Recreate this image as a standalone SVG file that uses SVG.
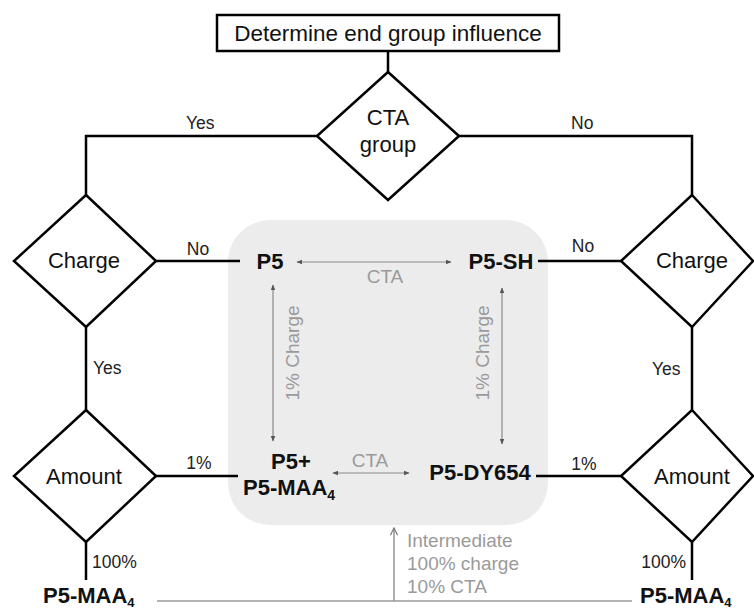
<svg xmlns="http://www.w3.org/2000/svg" width="754" height="612" viewBox="0 0 754 612">
<style>
text{font-family:"Liberation Sans",Arial,sans-serif;}
.node{font-size:22px;fill:#111;text-anchor:middle;}
.bold{font-size:22px;font-weight:bold;fill:#111;}
.lbl{font-size:17.5px;fill:#222;}
.gray{font-size:19px;fill:#9a9a9a;}
.shape{fill:#fff;stroke:#000;stroke-width:2.5;}
.edge{fill:none;stroke:#000;stroke-width:2.5;}
.garrow{fill:none;stroke:#8a8a8a;stroke-width:1.2;}
.gline{fill:none;stroke:#9a9a9a;stroke-width:1.6;}
</style>
<defs>
<marker id="ah" viewBox="0 0 10 10" refX="9" refY="5" markerWidth="6" markerHeight="6" orient="auto-start-reverse" markerUnits="userSpaceOnUse">
<path d="M0,1 L10,5 L0,9 z" fill="#555"/>
</marker>
<marker id="open" viewBox="0 0 10 10" refX="9" refY="5" markerWidth="9" markerHeight="9" orient="auto" markerUnits="userSpaceOnUse">
<path d="M1,1 L9,5 L1,9" fill="none" stroke="#777" stroke-width="1.3"/>
</marker>
</defs>
<rect width="754" height="612" fill="#fff"/>
<rect id="panel" x="228" y="220" width="320" height="305" rx="42" fill="#ececec"/>
<g id="connectors">
<line class="edge" x1="388" y1="51" x2="388" y2="72"/>
<polyline class="edge" points="317,136 86,136 86,195"/>
<polyline class="edge" points="459,136 692,136 692,195"/>
<line class="edge" x1="156" y1="261" x2="240" y2="261"/>
<line class="edge" x1="538" y1="261" x2="621" y2="261"/>
<line class="edge" x1="86" y1="327" x2="86" y2="410"/>
<line class="edge" x1="692" y1="327" x2="692" y2="410"/>
<line class="edge" x1="156" y1="476" x2="238" y2="476"/>
<line class="edge" x1="536" y1="476" x2="622" y2="476"/>
<line class="edge" x1="86" y1="542" x2="86" y2="580"/>
<line class="edge" x1="692" y1="542" x2="692" y2="580"/>
<line class="garrow" x1="297" y1="262" x2="451" y2="262" marker-start="url(#ah)" marker-end="url(#ah)"/>
<line class="garrow" x1="333" y1="473" x2="409" y2="473" marker-start="url(#ah)" marker-end="url(#ah)"/>
<line class="garrow" x1="273" y1="285" x2="273" y2="441" marker-start="url(#ah)" marker-end="url(#ah)"/>
<line class="garrow" x1="502" y1="288" x2="502" y2="444" marker-start="url(#ah)" marker-end="url(#ah)"/>
<line class="gline" x1="157" y1="601" x2="632" y2="601"/>
<line class="gline" x1="394" y1="601" x2="394" y2="528" marker-end="url(#open)"/>
</g>
<g id="title">
<rect class="shape" x="217" y="15" width="342" height="36"/>
<text class="node" x="388" y="41" style="font-size:22.5px">Determine end group influence</text>
</g>
<g id="cta-group">
<polygon class="shape" points="388,72 459,136 388,200 317,136"/>
<text class="node" x="388" y="125">CTA</text>
<text class="node" x="388" y="152">group</text>
</g>
<g id="charge-left">
<polygon class="shape" points="86,195 156,261 86,327 14,261"/>
<text class="node" x="84" y="268">Charge</text>
</g>
<g id="charge-right">
<polygon class="shape" points="692,195 753,261 692,327 621,261"/>
<text class="node" x="692" y="268">Charge</text>
</g>
<g id="amount-left">
<polygon class="shape" points="86,410 156,476 86,542 14,476"/>
<text class="node" x="84" y="484">Amount</text>
</g>
<g id="amount-right">
<polygon class="shape" points="692,410 753,476 692,542 621,476"/>
<text class="node" x="692" y="484">Amount</text>
</g>
<g id="p5"><text class="bold" x="270" y="269" text-anchor="middle">P5</text></g>
<g id="p5-sh"><text class="bold" x="501" y="269" text-anchor="middle">P5-SH</text></g>
<g id="p5-maa-mix">
<text class="bold" x="291" y="469" text-anchor="middle">P5+</text>
<text class="bold" x="243" y="495">P5-MAA<tspan font-size="14" dy="5">4</tspan></text>
</g>
<g id="p5-dy654"><text class="bold" x="480" y="480" text-anchor="middle">P5-DY654</text></g>
<g id="p5-maa-left"><text class="bold" x="43" y="603">P5-MAA<tspan font-size="13" dy="4">4</tspan></text></g>
<g id="p5-maa-right"><text class="bold" x="640" y="603">P5-MAA<tspan font-size="13" dy="4">4</tspan></text></g>
<g id="labels">
<text class="lbl" x="186" y="129">Yes</text>
<text class="lbl" x="571" y="129">No</text>
<text class="lbl" x="198" y="255" text-anchor="middle">No</text>
<text class="lbl" x="583" y="252" text-anchor="middle">No</text>
<text class="lbl" x="93" y="374">Yes</text>
<text class="lbl" x="652" y="375">Yes</text>
<text class="lbl" x="199" y="469" text-anchor="middle">1%</text>
<text class="lbl" x="584" y="470" text-anchor="middle">1%</text>
<text class="lbl" x="92" y="568">100%</text>
<text class="lbl" x="686" y="568" text-anchor="end">100%</text>
<text class="gray" x="385" y="283" text-anchor="middle">CTA</text>
<text class="gray" x="370" y="467" text-anchor="middle">CTA</text>
<text class="gray" transform="translate(299,353) rotate(-90)" text-anchor="middle">1% Charge</text>
<text class="gray" transform="translate(489,353) rotate(-90)" text-anchor="middle">1% Charge</text>
<text class="gray" x="407" y="547">Intermediate</text>
<text class="gray" x="407" y="570">100% charge</text>
<text class="gray" x="407" y="593">10% CTA</text>
</g>
</svg>
